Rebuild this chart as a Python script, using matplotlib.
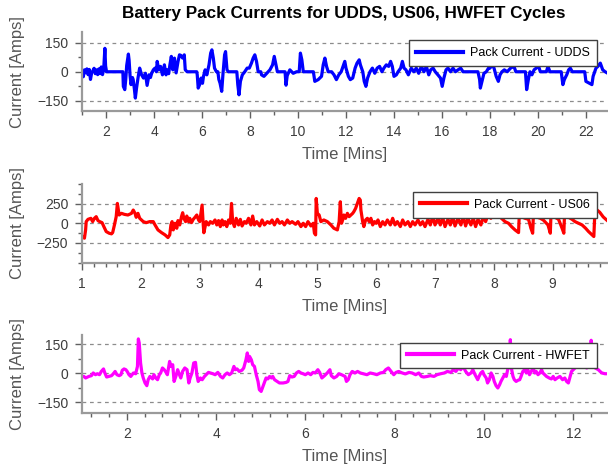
import matplotlib
matplotlib.use("Agg")
import matplotlib.pyplot as plt
from matplotlib.ticker import MultipleLocator

plt.rcParams["font.family"] = ["Liberation Sans", "DejaVu Sans"]

# UDDS pack current [A] vs time [min]
udds_t = [1.00, 1.05, 1.10, 1.15, 1.20, 1.25, 1.30, 1.35, 1.40, 1.45, 1.50, 1.55, 1.60, 1.65,
          1.70, 1.75, 1.80, 1.85, 1.90, 1.95, 1.98, 2.02, 2.70, 2.72, 2.78, 2.82, 2.86, 2.93,
          2.96, 3.00, 3.04, 3.10, 3.13, 3.18, 3.22, 3.27, 3.33, 3.40, 3.48, 3.56, 3.64, 3.71,
          3.79, 3.85, 3.90, 3.97, 4.04, 4.10, 4.13, 4.20, 4.27, 4.35, 4.43, 4.50, 4.55, 4.61,
          4.66, 4.72, 4.78, 4.85, 4.92, 5.00, 5.06, 5.12, 5.19, 5.26, 5.30, 5.38, 5.78, 5.80,
          5.84, 5.90, 5.96, 6.02, 6.06, 6.13, 6.20, 6.29, 6.36, 6.41, 6.47, 6.52, 6.60, 6.66,
          6.70, 6.75, 6.82, 6.87, 6.94, 6.98, 7.04, 7.10, 7.45, 7.49, 7.54, 7.60, 7.68, 7.78,
          7.88, 7.97, 8.06, 8.13, 8.20, 8.27, 8.34, 8.45, 8.48, 8.58, 8.70, 8.83, 8.94, 9.01,
          9.08, 9.14, 9.46, 9.50, 9.55, 9.66, 9.80, 9.94, 10.05, 10.10, 10.16, 10.22, 10.64,
          10.70, 10.84, 10.98, 11.05, 11.12, 11.19, 11.26, 11.40, 11.50, 11.60, 11.70, 11.80,
          11.95, 12.00, 12.10, 12.18, 12.28, 12.38, 12.46, 12.55, 12.60, 12.70, 12.76, 12.83,
          12.90, 13.00, 13.10, 13.20, 13.30, 13.40, 13.50, 13.58, 13.68, 13.78, 13.86, 13.93,
          14.00, 14.10, 14.17, 14.28, 14.35, 14.42, 14.50, 14.60, 14.72, 14.83, 14.93, 15.03,
          15.14, 15.25, 15.35, 15.45, 15.53, 15.63, 15.72, 15.83, 15.94, 16.01, 16.08, 16.17,
          16.25, 16.36, 16.46, 16.56, 16.67, 16.78, 16.88, 17.50, 17.57, 17.60, 17.67, 17.75,
          17.85, 17.94, 18.00, 18.10, 18.17, 18.26, 18.35, 18.42, 18.50, 18.60, 18.72, 18.86,
          19.00, 19.08, 19.48, 19.53, 19.60, 19.67, 19.75, 19.84, 19.93, 20.03, 20.10, 20.35,
          20.42, 20.50, 20.97, 21.04, 21.10, 21.20, 21.28, 21.35, 21.43, 21.95, 22.00, 22.25,
          22.30, 22.42, 22.50, 22.60, 22.70, 22.80, 22.87]
udds_i = [-10, -26, 10, -5, 15, -15, 12, -40, -5, 5, 18, -10, 10, -15,
          15, -10, 25, -15, 10, 122, 30, 0, 0, -76, -93, -40, 33, 92,
          60, -20, -67, -30, -41, -90, -137, -85, -33, 19, -16, -33, -8, -71,
          -16, -30, -8, 10, 19, 0, 54, 10, 28, -16, 36, -16, 10, -10,
          36, 80, 10, 71, -6, 54, 88, 85, 71, 88, 10, 0, 0, -16,
          -85, -67, -33, -60, -24, 10, -16, 36, 97, 114, 71, 19, 0, 0,
          -40, -59, -102, -16, 88, 105, 10, 0, 0, -67, -120, -50, -16, 0,
          19, 19, 45, 71, 88, 54, 0, 0, -16, -24, -8, 10, 36, 80,
          36, 0, 0, -70, -20, 10, -8, 0, 0, 97, 62, 0, 0,
          -50, -41, -24, 36, 71, 28, 0, 0, -16, -41, -16, 0,
          54, 19, -24, -41, -33, 19, 45, 62, 36, 0, -50, -76,
          -33, 0, 19, -8, 19, 28, 0, 19, 36, 28, 54, 28,
          -24, -16, 0, 19, 54, 19, 10, -16, 19, 0, 19, -8,
          28, 0, 28, -16, 10, 19, 0, -16, -33, -76, -33, 10,
          19, 0, 19, 0, 10, 19, 0, 0, -41, -85, -50, -8,
          0, 19, 19, 36, 19, -24, -50, -16, 0, 10, 0, 19,
          28, 0, 0, -93, -41, 0, -16, 10, 19, 28, 0, 0,
          28, 0, 0, -67, -41, -16, 10, 19, 0, 0, -50, -67,
          -24, 19, 28, 45, 10, 0, -5]

# US06 pack current [A] vs time [min]
us06_t = [1.00, 1.04, 1.06, 1.07, 1.10, 1.15, 1.18, 1.21, 1.24, 1.27, 1.30, 1.34, 1.37, 1.41,
          1.46, 1.50, 1.52, 1.55, 1.58, 1.60, 1.63, 1.67, 1.72, 1.78, 1.84, 1.87, 1.90, 1.92,
          1.95, 1.98, 2.04, 2.09, 2.15, 2.21, 2.24, 2.29, 2.35, 2.41, 2.46, 2.49, 2.51, 2.53,
          2.55, 2.58, 2.61, 2.63, 2.66, 2.69, 2.71, 2.73, 2.76, 2.78, 2.81, 2.83, 2.86, 2.89,
          2.92, 2.95, 2.98, 3.00, 3.04, 3.06, 3.07, 3.11, 3.15, 3.18, 3.22, 3.26, 3.29, 3.32,
          3.35, 3.38, 3.40, 3.43, 3.46, 3.49, 3.52, 3.54, 3.56, 3.59, 3.62, 3.66, 3.69, 3.72,
          3.76, 3.79, 3.83, 3.87, 3.90, 3.93, 3.97, 4.02, 4.06, 4.10, 4.15, 4.19, 4.23, 4.27,
          4.32, 4.36, 4.40, 4.44, 4.49, 4.53, 4.57, 4.63, 4.67, 4.72, 4.76, 4.80, 4.84, 4.89,
          4.93, 4.95, 4.97, 4.98, 5.00, 5.03, 5.06, 5.11, 5.17, 5.23, 5.28, 5.34, 5.37, 5.39,
          5.41, 5.43, 5.45, 5.48, 5.51, 5.54, 5.57, 5.60, 5.62, 5.65, 5.68, 5.71, 5.73, 5.74,
          5.77, 5.79, 5.82, 5.85, 5.88, 5.91, 5.94, 5.97, 6.00, 6.03, 6.07, 6.11, 6.15, 6.19,
          6.24, 6.28, 6.32, 6.36, 6.41, 6.45, 6.49, 6.54, 6.58, 6.62, 6.66, 6.71, 6.75, 6.79,
          6.83, 6.88, 6.92, 6.96, 7.00, 7.05, 7.09, 7.13, 7.17, 7.22, 7.26, 7.30, 7.34, 7.39,
          7.44, 7.48, 7.52, 7.56, 7.61, 7.65, 7.69, 7.73, 7.78, 7.82, 7.86, 7.90, 7.95, 7.99,
          8.02, 8.07, 8.13, 8.19, 8.25, 8.30, 8.36, 8.42, 8.43, 8.47, 8.53, 8.59, 8.63, 8.66,
          8.67, 8.71, 8.79, 8.84, 8.92, 8.96, 8.97, 9.04, 9.10, 9.16, 9.19, 9.20, 9.27, 9.33,
          9.38, 9.44, 9.50, 9.56, 9.61, 9.67, 9.70, 9.72, 9.80, 9.86, 9.92]
us06_i = [-168, -189, -84, 21, 50, 63, 21, 63, 84, 34, 21, 8, -42, -105,
          -126, -134, -118, -21, 84, 252, 105, 126, 113, 105, 126, 168, 126, 76,
          126, 63, 21, 8, 21, 21, -21, -84, -118, -147, -181, -147, -21, 21,
          -84, 0, -63, 34, -21, 84, 134, 63, 21, 92, 21, 63, 8, 50,
          76, 105, 42, 21, 231, -21, -120, 21, -21, 21, 0, 42, -21, 34,
          -42, 42, -21, 21, -42, 42, 0, 252, 21, -42, 63, -21, 50, -34,
          21, 0, 63, -21, 92, -21, 21, -34, 42, -21, 21, 0, 42, -21,
          50, 0, 21, -21, 42, 0, 21, -13, 21, -42, 0, -42, 21, -34,
          0, -126, -147, 315, 126, 105, 21, 42, 21, -21, -63, -84, 21, 273,
          0, 42, 105, 63, 126, 84, 105, 126, 147, 189, 252, 315, 294, 168,
          21, -42, 42, 63, 21, 63, -21, 21, 0, 42, -42, 21, -21, 42,
          -21, 63, -21, 21, -42, 42, -21, 21, -42, 21, -21, 42, -21, 21,
          -42, 50, -21, 84, -21, 63, -21, 76, -42, 50, -21, 84, -34, 63,
          -21, 84, -34, 63, -21, 63, -42, 50, -21, 84, 21, 105, 63, 126,
          84, 105, 63, 21, 0, -42, -84, -118, 63, 84, 63, 50, -63, -126,
          63, 84, 63, 42, -21, -126, 84, 76, 50, -63, -126, 84, 76, 50,
          21, 0, -21, -63, -105, -147, -168, 190, 140, 80, 40]

# HWFET pack current [A] vs time [min]
hwfet_t = [1.00, 1.04, 1.08, 1.15, 1.21, 1.25, 1.30, 1.34, 1.39, 1.43, 1.48, 1.51, 1.55, 1.60,
           1.66, 1.70, 1.74, 1.78, 1.83, 1.87, 1.90, 1.94, 1.98, 2.01, 2.05, 2.09, 2.15, 2.20,
           2.24, 2.26, 2.28, 2.31, 2.34, 2.37, 2.41, 2.45, 2.48, 2.52, 2.58, 2.61, 2.65, 2.69,
           2.73, 2.76, 2.80, 2.84, 2.88, 2.91, 2.96, 2.99, 3.03, 3.06, 3.10, 3.14, 3.18, 3.21,
           3.25, 3.30, 3.35, 3.39, 3.42, 3.46, 3.50, 3.54, 3.57, 3.60, 3.65, 3.69, 3.74, 3.78,
           3.83, 3.87, 3.93, 3.98, 4.04, 4.10, 4.15, 4.20, 4.25, 4.30, 4.35, 4.40, 4.43, 4.47,
           4.52, 4.58, 4.62, 4.67, 4.70, 4.73, 4.75, 4.79, 4.82, 4.86, 4.90, 4.94, 4.97, 5.01,
           5.05, 5.09, 5.12, 5.16, 5.20, 5.24, 5.27, 5.31, 5.37, 5.42, 5.50, 5.57, 5.61, 5.65,
           5.70, 5.75, 5.80, 5.85, 5.90, 5.95, 6.00, 6.06, 6.12, 6.17, 6.22, 6.28, 6.32, 6.37,
           6.43, 6.49, 6.55, 6.58, 6.64, 6.70, 6.75, 6.81, 6.89, 6.92, 6.96, 7.00, 7.05, 7.11,
           7.17, 7.23, 7.30, 7.38, 7.45, 7.53, 7.60, 7.68, 7.75, 7.80, 7.86, 7.92, 7.98, 8.03,
           8.09, 8.17, 8.24, 8.32, 8.39, 8.47, 8.54, 8.60, 8.65, 8.73, 8.80, 8.88, 8.95, 9.03,
           9.11, 9.18, 9.26, 9.31, 9.37, 9.43, 9.48, 9.53, 9.59, 9.65, 9.71, 9.75, 9.80, 9.86,
           9.89, 9.93, 9.97, 10.00, 10.05, 10.08, 10.12, 10.16, 10.20, 10.23, 10.27, 10.31,
           10.35, 10.38, 10.42, 10.46, 10.50, 10.53, 10.57, 10.59, 10.62, 10.65, 10.68, 10.72,
           10.76, 10.80, 10.83, 10.87, 10.91, 10.95, 10.98, 11.02, 11.06, 11.10, 11.14, 11.17,
           11.21, 11.25, 11.29, 11.32, 11.40, 11.46, 11.51, 11.55, 11.59, 11.64, 11.70, 11.76,
           11.81, 11.85, 11.89, 11.92, 11.96, 12.00, 12.04, 12.08, 12.15, 12.23, 12.30, 12.38,
           12.40, 12.43, 12.49, 12.56, 12.60, 12.64, 12.71, 12.75]
hwfet_i = [-16, -16, -24, -16, -12, 2, -7, -2, -7, 10, 23, 2, -19, -16,
           -12, -2, 10, -7, -12, -7, 16, 23, 19, 10, -7, -16, 2, -2,
           36, 179, 158, 54, 2, -24, -50, -64, -33, -16, -29, -7, -24, -33,
           -7, 2, 28, 19, 5, -7, 62, 36, 45, -42, -16, 19, -7, -24,
           10, 28, 19, -50, -24, 2, 54, 57, -7, -42, -24, -33, -16, -7,
           5, 2, -2, -7, 5, -16, -24, -7, 2, -7, 2, 36, 19, 23,
           10, 16, 28, 71, 106, 62, 88, 71, 45, 36, -7, -42, -85, -94,
           -68, -42, -24, -29, -16, -24, -16, -33, -42, -50, -50, -47, -42, -12,
           -19, -16, 2, 10, 2, -2, -7, 2, -7, 5, 2, 19, 5, -24,
           -12, 2, 19, -12, -24, -16, -2, -7, -16, -42, -33, -7, 10, 2,
           10, 2, -2, -7, 2, -2, -7, 2, 5, 19, 28, 10, -7, 5,
           10, 2, -3, 5, 2, -7, 2, -16, -19, -16, -12, -16, -7, -2,
           2, 10, 5, 19, 10, 28, 19, 36, 10, -7, 2, 19, -7, -33,
           -16, 2, 10, -7, -24, -50, -33, 2, -16, -42, -64, -76,
           -59, -42, -24, -7, -16, 19, 36, 175, 19, -16, -33, -42,
           -36, -33, -16, 10, 19, 2, 19, -7, 10, 28, 2, 10,
           -7, 2, 19, 2, -16, -24, -29, -16, -33, -24, -16, -33,
           -24, -42, -50, -24, 10, 19, 28, 36, 45, 36, 28, 36,
           172, 36, 28, 19, 10, 2, -2, -2]

panels = [
    (udds_t, udds_i, "#0000ff", "Pack Current - UDDS", (1, 22.87), (-205, 205), 150, 2, 1),
    (us06_t, us06_i, "#ff0000", "Pack Current - US06", (1, 9.92), (-505, 500), 250, 1, 0.2),
    (hwfet_t, hwfet_i, "#ff00ff", "Pack Current - HWFET", (1, 12.75), (-207, 200), 150, 2, 0.4),
]

# axes rectangles in figure fractions
rects = [
    [0.135, 0.763, 0.863, 0.168],
    [0.135, 0.439, 0.863, 0.169],
    [0.135, 0.119, 0.863, 0.167],
]

fig = plt.figure(figsize=(6.08, 4.69), dpi=100)
fig.suptitle("Battery Pack Currents for UDDS, US06, HWFET Cycles",
             fontsize=12.3, fontweight="bold", y=0.988, x=0.565)

axis_grey = "#9a9a9a"
text_grey = "#555555"

for (t, cur, color, label, xlim, ylim, ystep, xmaj, xmin), rect in zip(panels, rects):
    ax = fig.add_axes(rect)
    ax.plot(t, cur, color=color, lw=2.3, label=label)
    ax.set_xlim(*xlim)
    ax.set_ylim(*ylim)
    ax.set_yticks([-ystep, 0, ystep])
    ax.yaxis.set_minor_locator(MultipleLocator(ystep / 2))
    ax.xaxis.set_major_locator(MultipleLocator(xmaj))
    ax.xaxis.set_minor_locator(MultipleLocator(xmin))
    ax.grid(axis="y", which="major", ls=(0, (3, 3)), color="#8c8c8c", lw=0.9)
    for side in ["top", "right"]:
        ax.spines[side].set_visible(False)
    for side in ["left", "bottom"]:
        ax.spines[side].set_color(axis_grey)
        ax.spines[side].set_linewidth(1.6)
    ax.tick_params(which="both", direction="out", color="#606060", labelcolor="#3c3c3c",
                   labelsize=10)
    ax.tick_params(which="major", length=5, width=1, pad=5)
    ax.tick_params(which="minor", length=3, width=1)
    ax.set_xlabel("Time [Mins]", fontsize=12, color=text_grey, labelpad=6)
    ax.set_ylabel("Current [Amps]", fontsize=12, color=text_grey, labelpad=2)
    ax.yaxis.set_label_coords(-0.108, 0.5)
    leg = ax.legend(loc="upper right", bbox_to_anchor=(0.981, 0.9), borderaxespad=0,
                    fontsize=9, handlelength=3.8, handletextpad=0.55, borderpad=0.55,
                    fancybox=False, framealpha=1)
    leg.get_frame().set_edgecolor("#404040")
    leg.get_frame().set_linewidth(1)
    for h in leg.get_lines():
        h.set_linewidth(3)

fig.savefig("out.png", dpi=100)
